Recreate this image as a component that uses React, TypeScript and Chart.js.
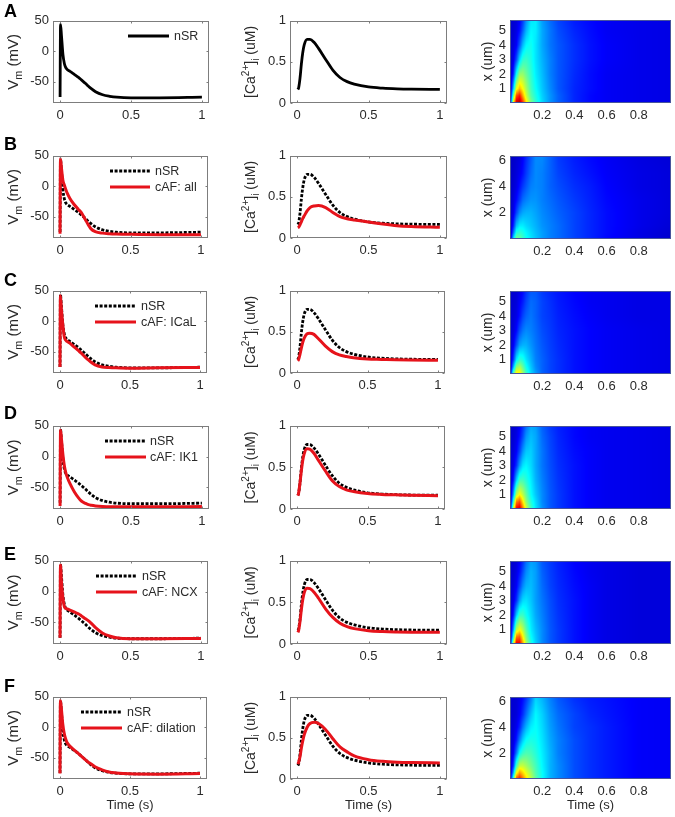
import React, { useEffect, useRef } from "react";
import { Chart, registerables } from "chart.js";

Chart.register(...registerables);

const FONT = '"Liberation Sans", Arial, sans-serif';
const TICK_COLOR = "#2a2a2a";
const FRAME_COLOR = "#7d7d7d";
const RED = "#e6131b";

const panelLetters = ["A", "B", "C", "D", "E", "F"];
const legendCaf = ["", "cAF: all", "cAF: ICaL", "cAF: IK1", "cAF: NCX", "cAF: dilation"];

// ---- Membrane potential
const vmTime = [0, 0.003, 0.01, 0.02, 0.03, 0.04, 0.05, 0.07, 0.1, 0.13, 0.15, 0.18, 0.2, 0.22, 0.25, 0.3, 0.35, 0.4, 0.5, 0.7, 1];
const vmNsr = [-75, 44, 25, -5, -20, -27, -30, -33, -38, -43, -47, -53, -57.5, -61.5, -66.5, -71.5, -74, -75.5, -76.5, -76.5, -75.5];
const vmAll = [-78, 45, 30, 10, 2, -5, -11, -20, -30, -38, -43, -55, -63, -70, -74.5, -77, -78, -78.5, -79, -79.5, -79.5];
const vmICaL = [-75, 42, 20, -5, -25, -31, -33, -36, -42, -48, -52, -59, -63, -67, -71.5, -75, -76, -76.5, -77, -76.5, -76];
const vmIK1 = [-80, 43, 28, 3, -15, -26, -33, -44, -57, -67, -72, -76, -78, -79, -80, -81, -81.5, -81.5, -81.5, -81.5, -81];
const vmNCX = [-75, 43, 15, -10, -24, -27, -28, -30, -33, -36, -39, -44, -47, -51, -58, -67, -72, -75, -76.5, -76.5, -76];
const vmDilation = [-76, 44, 30, 5, -10, -19, -25, -31, -37, -43, -47, -53, -57, -60, -65, -70, -73.5, -75, -76.5, -77, -76];

// ---- Calcium transient
const caTime = [0.005, 0.01, 0.02, 0.03, 0.04, 0.05, 0.07, 0.09, 0.12, 0.15, 0.2, 0.25, 0.3, 0.35, 0.4, 0.5, 0.6, 0.7, 0.8, 1];
const caNsr = [0.165, 0.18, 0.3, 0.48, 0.62, 0.71, 0.775, 0.775, 0.735, 0.665, 0.53, 0.4, 0.31, 0.26, 0.23, 0.195, 0.18, 0.172, 0.168, 0.165];
const caAll = [0.125, 0.13, 0.16, 0.2, 0.24, 0.27, 0.33, 0.37, 0.39, 0.395, 0.37, 0.31, 0.26, 0.235, 0.22, 0.195, 0.17, 0.15, 0.14, 0.13];
const caICaL = [0.15, 0.16, 0.22, 0.3, 0.37, 0.42, 0.475, 0.485, 0.47, 0.42, 0.33, 0.26, 0.22, 0.2, 0.185, 0.17, 0.165, 0.16, 0.157, 0.155];
const caIK1 = [0.16, 0.18, 0.3, 0.45, 0.58, 0.66, 0.725, 0.72, 0.67, 0.59, 0.46, 0.34, 0.27, 0.23, 0.21, 0.185, 0.175, 0.17, 0.165, 0.16];
const caNCX = [0.14, 0.16, 0.27, 0.42, 0.54, 0.62, 0.67, 0.665, 0.62, 0.55, 0.42, 0.32, 0.25, 0.21, 0.185, 0.16, 0.15, 0.145, 0.142, 0.14];
const caDilation = [0.18, 0.2, 0.27, 0.38, 0.47, 0.54, 0.63, 0.675, 0.69, 0.675, 0.6, 0.49, 0.39, 0.33, 0.28, 0.235, 0.215, 0.205, 0.2, 0.195];

const vmCaf = [null, vmAll, vmICaL, vmIK1, vmNCX, vmDilation];
const caCaf = [null, caAll, caICaL, caIK1, caNCX, caDilation];

// ---- Line-scan maps, colour value 0..1 (rows run from the bottom of the map up)
const heatTime = [0.005, 0.02, 0.04, 0.06, 0.08, 0.1, 0.13, 0.16, 0.2, 0.25, 0.3, 0.4, 0.5, 0.6, 0.8, 1];
const heatRowsShort = [0, 0.5, 1, 2, 3, 4, 5, 5.75];
const heatRowsTall = [0, 0.5, 1, 2, 3, 4, 5, 6.35];

const heatA = [
  [0.18, 0.62, 0.93, 0.96, 0.84, 0.66, 0.5, 0.42, 0.34, 0.27, 0.22, 0.16, 0.13, 0.115, 0.105, 0.1],
  [0.12, 0.45, 0.8, 0.86, 0.71, 0.58, 0.46, 0.4, 0.33, 0.27, 0.22, 0.16, 0.13, 0.115, 0.105, 0.1],
  [0.09, 0.3, 0.6, 0.69, 0.62, 0.54, 0.44, 0.38, 0.32, 0.26, 0.21, 0.16, 0.135, 0.115, 0.105, 0.1],
  [0.08, 0.15, 0.38, 0.52, 0.52, 0.48, 0.42, 0.36, 0.31, 0.25, 0.21, 0.165, 0.135, 0.115, 0.105, 0.1],
  [0.08, 0.1, 0.2, 0.34, 0.42, 0.43, 0.4, 0.35, 0.3, 0.25, 0.21, 0.17, 0.14, 0.12, 0.105, 0.1],
  [0.08, 0.09, 0.12, 0.21, 0.31, 0.37, 0.39, 0.35, 0.29, 0.24, 0.21, 0.17, 0.14, 0.12, 0.105, 0.1],
  [0.08, 0.08, 0.1, 0.14, 0.22, 0.3, 0.37, 0.36, 0.29, 0.24, 0.2, 0.16, 0.135, 0.115, 0.105, 0.1],
  [0.08, 0.08, 0.09, 0.12, 0.18, 0.26, 0.35, 0.36, 0.28, 0.23, 0.19, 0.15, 0.13, 0.115, 0.105, 0.1],
];
const heatB = [
  [0.1, 0.34, 0.5, 0.48, 0.43, 0.39, 0.35, 0.32, 0.28, 0.25, 0.23, 0.19, 0.16, 0.13, 0.1, 0.075],
  [0.08, 0.22, 0.4, 0.42, 0.4, 0.37, 0.34, 0.31, 0.28, 0.25, 0.23, 0.19, 0.16, 0.135, 0.1, 0.08],
  [0.08, 0.15, 0.31, 0.36, 0.36, 0.34, 0.32, 0.3, 0.27, 0.25, 0.23, 0.19, 0.16, 0.135, 0.105, 0.085],
  [0.075, 0.1, 0.19, 0.26, 0.29, 0.3, 0.3, 0.285, 0.26, 0.24, 0.22, 0.19, 0.16, 0.135, 0.105, 0.09],
  [0.07, 0.09, 0.13, 0.18, 0.23, 0.25, 0.27, 0.27, 0.25, 0.23, 0.21, 0.18, 0.155, 0.13, 0.105, 0.09],
  [0.07, 0.08, 0.1, 0.14, 0.18, 0.21, 0.25, 0.26, 0.25, 0.22, 0.2, 0.17, 0.15, 0.125, 0.1, 0.09],
  [0.07, 0.075, 0.09, 0.11, 0.14, 0.18, 0.23, 0.26, 0.25, 0.22, 0.19, 0.16, 0.14, 0.12, 0.1, 0.09],
  [0.07, 0.07, 0.08, 0.09, 0.12, 0.16, 0.21, 0.26, 0.26, 0.22, 0.18, 0.15, 0.13, 0.115, 0.095, 0.085],
];
const heatC = [
  [0.14, 0.46, 0.66, 0.65, 0.54, 0.44, 0.34, 0.28, 0.22, 0.19, 0.17, 0.14, 0.125, 0.115, 0.105, 0.1],
  [0.09, 0.28, 0.5, 0.54, 0.47, 0.39, 0.32, 0.26, 0.22, 0.19, 0.17, 0.14, 0.125, 0.115, 0.105, 0.1],
  [0.09, 0.17, 0.35, 0.42, 0.4, 0.35, 0.3, 0.25, 0.22, 0.19, 0.17, 0.14, 0.125, 0.115, 0.105, 0.1],
  [0.08, 0.11, 0.2, 0.28, 0.3, 0.3, 0.27, 0.24, 0.21, 0.185, 0.165, 0.14, 0.125, 0.115, 0.105, 0.1],
  [0.08, 0.09, 0.13, 0.2, 0.24, 0.26, 0.25, 0.23, 0.2, 0.18, 0.16, 0.14, 0.125, 0.115, 0.105, 0.1],
  [0.08, 0.085, 0.1, 0.14, 0.19, 0.22, 0.24, 0.22, 0.19, 0.175, 0.155, 0.135, 0.12, 0.11, 0.1, 0.1],
  [0.08, 0.08, 0.09, 0.12, 0.15, 0.19, 0.23, 0.22, 0.19, 0.17, 0.15, 0.13, 0.115, 0.11, 0.1, 0.1],
  [0.08, 0.08, 0.085, 0.1, 0.13, 0.17, 0.21, 0.21, 0.18, 0.16, 0.145, 0.125, 0.115, 0.11, 0.1, 0.1],
];
const heatD = [
  [0.16, 0.56, 0.89, 0.92, 0.76, 0.59, 0.44, 0.35, 0.27, 0.21, 0.18, 0.14, 0.12, 0.11, 0.105, 0.1],
  [0.1, 0.4, 0.75, 0.8, 0.65, 0.52, 0.41, 0.34, 0.26, 0.21, 0.18, 0.14, 0.12, 0.11, 0.105, 0.1],
  [0.09, 0.26, 0.55, 0.63, 0.56, 0.48, 0.38, 0.32, 0.26, 0.21, 0.18, 0.14, 0.12, 0.11, 0.105, 0.1],
  [0.08, 0.14, 0.32, 0.44, 0.44, 0.41, 0.36, 0.3, 0.25, 0.205, 0.175, 0.14, 0.12, 0.11, 0.105, 0.1],
  [0.08, 0.1, 0.17, 0.28, 0.35, 0.37, 0.34, 0.29, 0.24, 0.2, 0.17, 0.14, 0.12, 0.11, 0.105, 0.1],
  [0.08, 0.09, 0.12, 0.19, 0.27, 0.32, 0.33, 0.29, 0.24, 0.195, 0.165, 0.135, 0.12, 0.11, 0.105, 0.1],
  [0.08, 0.08, 0.1, 0.14, 0.2, 0.27, 0.31, 0.29, 0.23, 0.19, 0.16, 0.13, 0.115, 0.11, 0.105, 0.1],
  [0.08, 0.08, 0.09, 0.12, 0.17, 0.23, 0.29, 0.28, 0.22, 0.18, 0.155, 0.13, 0.115, 0.11, 0.105, 0.1],
];
const heatE = [
  [0.16, 0.56, 0.9, 0.89, 0.72, 0.55, 0.41, 0.33, 0.26, 0.21, 0.18, 0.14, 0.115, 0.1, 0.09, 0.09],
  [0.1, 0.38, 0.75, 0.78, 0.63, 0.5, 0.38, 0.32, 0.26, 0.21, 0.18, 0.14, 0.115, 0.1, 0.09, 0.09],
  [0.09, 0.26, 0.55, 0.62, 0.55, 0.46, 0.36, 0.31, 0.26, 0.21, 0.18, 0.14, 0.115, 0.1, 0.09, 0.09],
  [0.08, 0.14, 0.32, 0.43, 0.43, 0.39, 0.34, 0.29, 0.25, 0.205, 0.175, 0.14, 0.115, 0.1, 0.09, 0.09],
  [0.08, 0.1, 0.17, 0.28, 0.34, 0.35, 0.32, 0.28, 0.24, 0.2, 0.17, 0.14, 0.115, 0.1, 0.09, 0.09],
  [0.08, 0.09, 0.12, 0.19, 0.26, 0.3, 0.31, 0.28, 0.23, 0.19, 0.165, 0.135, 0.115, 0.1, 0.09, 0.09],
  [0.08, 0.08, 0.1, 0.14, 0.2, 0.26, 0.3, 0.28, 0.22, 0.185, 0.16, 0.13, 0.11, 0.1, 0.09, 0.09],
  [0.08, 0.08, 0.09, 0.12, 0.17, 0.23, 0.28, 0.27, 0.21, 0.18, 0.155, 0.125, 0.11, 0.1, 0.09, 0.09],
];
const heatF = [
  [0.14, 0.42, 0.8, 0.86, 0.76, 0.66, 0.56, 0.47, 0.38, 0.3, 0.26, 0.2, 0.17, 0.15, 0.12, 0.115],
  [0.09, 0.27, 0.6, 0.72, 0.66, 0.6, 0.53, 0.45, 0.38, 0.3, 0.26, 0.2, 0.17, 0.15, 0.12, 0.115],
  [0.09, 0.17, 0.44, 0.57, 0.57, 0.54, 0.49, 0.44, 0.37, 0.3, 0.26, 0.2, 0.17, 0.15, 0.12, 0.115],
  [0.08, 0.11, 0.24, 0.38, 0.43, 0.45, 0.44, 0.41, 0.36, 0.3, 0.25, 0.2, 0.17, 0.15, 0.12, 0.115],
  [0.08, 0.09, 0.15, 0.25, 0.33, 0.38, 0.4, 0.39, 0.35, 0.29, 0.25, 0.2, 0.17, 0.15, 0.12, 0.115],
  [0.08, 0.085, 0.11, 0.16, 0.24, 0.3, 0.36, 0.38, 0.34, 0.28, 0.24, 0.19, 0.17, 0.15, 0.12, 0.115],
  [0.08, 0.08, 0.09, 0.12, 0.17, 0.23, 0.31, 0.37, 0.33, 0.27, 0.23, 0.19, 0.16, 0.145, 0.12, 0.115],
  [0.08, 0.08, 0.085, 0.1, 0.13, 0.17, 0.24, 0.33, 0.3, 0.25, 0.21, 0.17, 0.15, 0.14, 0.12, 0.115],
];
const heatGrids = [heatA, heatB, heatC, heatD, heatE, heatF];

// ---- Ticks
const vmTicks = [-50, 0, 50];
const caTicks = [0, 0.5, 1];
const lineTimeTicks = [0, 0.5, 1];
const heatTimeTicks = [0.2, 0.4, 0.6, 0.8];
const heatYShort = [1, 2, 3, 4, 5];
const heatYTall = [2, 4, 6];

// ---- Layout: [top, bottom] of each row, right edges per column
const rowBox = [[19, 103], [154, 238], [289, 373], [424, 509], [559, 644], [695, 779]];
const heatRowBox = [[18, 103], [154, 239], [289, 374], [424, 509], [559, 644], [695, 779]];
const col1Right = [209, 208, 207, 209, 208, 207];
const col2Right = [447, 447, 445, 445, 447, 447];
const letterBaseline = [17, 150, 286, 419, 560, 692];
// line start, line end, text start, first row y, second row y
const legendBox = [
  [128, 169, 174, 36, 36],
  [110, 150, 155, 171, 187],
  [95, 136, 141, 306, 322],
  [105, 146, 150, 441, 457],
  [96, 137, 142, 576, 592],
  [81, 122, 127, 712, 728],
];

type Part = { t: string; mode?: "sub" | "sup" };
const vmLabel: Part[] = [{ t: "V" }, { t: "m", mode: "sub" }, { t: " (mV)" }];
const caLabel: Part[] = [{ t: "[Ca" }, { t: "2+", mode: "sup" }, { t: "]" }, { t: "i", mode: "sub" }, { t: " (uM)" }];
const xLabel: Part[] = [{ t: "x (um)" }];

const framePlugin = (color: string, ticks: boolean) => ({
  id: "frame",
  afterDatasetsDraw(chart: any) {
    const { ctx, chartArea: a, scales } = chart;
    const l = Math.round(a.left) + 0.5;
    const r = Math.round(a.right) - 0.5;
    const t = Math.round(a.top) + 0.5;
    const b = Math.round(a.bottom) - 0.5;
    ctx.save();
    ctx.strokeStyle = color;
    ctx.lineWidth = 1;
    ctx.strokeRect(l, t, r - l, b - t);
    if (ticks) {
      ctx.beginPath();
      for (const tk of scales.x.ticks) {
        const p = Math.round(scales.x.getPixelForValue(tk.value)) + 0.5;
        ctx.moveTo(p, b); ctx.lineTo(p, b - 2);
        ctx.moveTo(p, t); ctx.lineTo(p, t + 2);
      }
      for (const tk of scales.y.ticks) {
        const p = Math.round(scales.y.getPixelForValue(tk.value)) + 0.5;
        ctx.moveTo(l, p); ctx.lineTo(l + 2, p);
        ctx.moveTo(r, p); ctx.lineTo(r - 2, p);
      }
      ctx.stroke();
    }
    ctx.restore();
  },
});

const yTitlePlugin = (parts: Part[], cx: number, size: number) => ({
  id: "yTitle",
  afterDraw(chart: any) {
    const { ctx, chartArea: a } = chart;
    const sizeOf = (p: Part) => (p.mode ? size * 0.72 : size);
    ctx.save();
    ctx.fillStyle = TICK_COLOR;
    ctx.textAlign = "left";
    ctx.textBaseline = "alphabetic";
    let total = 0;
    for (const p of parts) {
      ctx.font = `${sizeOf(p)}px ${FONT}`;
      total += ctx.measureText(p.t).width;
    }
    ctx.translate(cx + size * 0.36, (a.top + a.bottom) / 2);
    ctx.rotate(-Math.PI / 2);
    let x = -total / 2;
    for (const p of parts) {
      ctx.font = `${sizeOf(p)}px ${FONT}`;
      const dy = p.mode === "sub" ? size * 0.25 : p.mode === "sup" ? -size * 0.4 : 0;
      ctx.fillText(p.t, x, dy);
      x += ctx.measureText(p.t).width;
    }
    ctx.restore();
  },
});

const legendPlugin = (box: number[], canvasLeft: number, canvasTop: number) => ({
  id: "panelLegend",
  afterDatasetsDraw(chart: any) {
    const { ctx } = chart;
    const [x0, x1, tx, y0, y1] = box;
    ctx.save();
    chart.data.datasets.forEach((d: any, i: number) => {
      const y = (i === 0 ? y0 : y1) - canvasTop;
      ctx.beginPath();
      ctx.strokeStyle = d.borderColor;
      ctx.lineWidth = d.borderWidth;
      ctx.setLineDash(d.borderDash || []);
      ctx.moveTo(x0 - canvasLeft, y);
      ctx.lineTo(x1 - canvasLeft, y);
      ctx.stroke();
      ctx.setLineDash([]);
      ctx.fillStyle = TICK_COLOR;
      ctx.font = `12.5px ${FONT}`;
      ctx.textAlign = "left";
      ctx.textBaseline = "middle";
      ctx.fillText(d.label, tx - canvasLeft, y + 0.5);
    });
    ctx.restore();
  },
});

const jet = (v: number) => {
  const c = (x: number) => Math.max(0, Math.min(1, x));
  return [c(1.5 - Math.abs(4 * v - 3)) * 255, c(1.5 - Math.abs(4 * v - 2)) * 255, c(1.5 - Math.abs(4 * v - 1)) * 255];
};

const bracket = (arr: number[], v: number) => {
  if (v <= arr[0]) return [0, 0, 0];
  const n = arr.length - 1;
  if (v >= arr[n]) return [n, n, 0];
  let i = 0;
  while (arr[i + 1] < v) i++;
  return [i, i + 1, (v - arr[i]) / (arr[i + 1] - arr[i])];
};

const heatPlugin = (times: number[], rows: number[], grid: number[][]) => ({
  id: "heat",
  beforeDatasetsDraw(chart: any) {
    const { ctx, chartArea: a, scales } = chart;
    const left = Math.round(a.left);
    const top = Math.round(a.top);
    const w = Math.round(a.right) - left;
    const h = Math.round(a.bottom) - top;
    const img = ctx.createImageData(w, h);
    const xs = [];
    for (let px = 0; px < w; px++) xs.push(bracket(times, scales.x.getValueForPixel(left + px + 0.5)));
    for (let py = 0; py < h; py++) {
      const [r0, r1, fr] = bracket(rows, scales.y.getValueForPixel(top + py + 0.5));
      for (let px = 0; px < w; px++) {
        const [c0, c1, fc] = xs[px];
        const v0 = grid[r0][c0] * (1 - fc) + grid[r0][c1] * fc;
        const v1 = grid[r1][c0] * (1 - fc) + grid[r1][c1] * fc;
        const [R, G, B] = jet(v0 * (1 - fr) + v1 * fr);
        const k = (py * w + px) * 4;
        img.data[k] = R; img.data[k + 1] = G; img.data[k + 2] = B; img.data[k + 3] = 255;
      }
    }
    ctx.putImageData(img, left, top);
  },
});

const PAD = 10;

type Spec = {
  left: number; right: number; top: number; bottom: number; canvasLeft: number; xHeight: number;
  datasets: any[]; xMin: number; xMax: number; yMin: number; yMax: number;
  xTicks: number[]; yTicks: number[]; xTitle: boolean; plugins: any[];
};

const axisFont = { family: FONT, size: 13 };

const makeConfig = (s: Spec) => {
  return {
    type: "scatter",
    data: { datasets: s.datasets },
    plugins: s.plugins,
    options: {
      animation: false,
      responsive: false,
      maintainAspectRatio: false,
      events: [],
      layout: { autoPadding: false, padding: { left: 0, top: PAD, right: PAD, bottom: 0 } },
      plugins: { legend: { display: false }, tooltip: { enabled: false }, title: { display: false } },
      scales: {
        x: {
          type: "linear", min: s.xMin, max: s.xMax,
          grid: { display: false, drawTicks: false }, border: { display: false },
          afterBuildTicks: (sc: any) => { sc.ticks = s.xTicks.map((value) => ({ value })); },
          afterFit: (sc: any) => { sc.height = s.xHeight; },
          ticks: { color: TICK_COLOR, font: axisFont, padding: 5, maxRotation: 0, autoSkip: false, callback: (v: number) => String(v) },
          title: { display: s.xTitle, text: "Time (s)", color: TICK_COLOR, font: { family: FONT, size: 13 }, padding: 0 },
        },
        y: {
          type: "linear", min: s.yMin, max: s.yMax,
          grid: { display: false, drawTicks: false }, border: { display: false },
          afterBuildTicks: (sc: any) => { sc.ticks = s.yTicks.map((value) => ({ value })); },
          afterFit: (sc: any) => { sc.width = s.left - s.canvasLeft; },
          ticks: { color: TICK_COLOR, font: axisFont, padding: 4, autoSkip: false, callback: (v: number) => String(v) },
        },
      },
    },
  };
};

const lineDatasets = (time: number[], nsr: number[], caf: number[] | null, cafName: string) => {
  const toPts = (vals: number[]) => time.map((x, i) => ({ x, y: vals[i] }));
  const common = { showLine: true, pointRadius: 0, cubicInterpolationMode: "monotone", borderCapStyle: "butt" };
  if (!caf) return [{ ...common, label: "nSR", data: toPts(nsr), borderColor: "#000000", borderWidth: 2.8 }];
  return [
    { ...common, label: "nSR", data: toPts(nsr), borderColor: "#000000", borderWidth: 2.8, borderDash: [3, 1.6], order: 2 },
    { ...common, label: cafName, data: toPts(caf), borderColor: RED, borderWidth: 3, order: 1 },
  ];
};

const buildSpecs = (): (Spec & { key: string })[] => {
  const specs: (Spec & { key: string })[] = [];
  panelLetters.forEach((letter, row) => {
    const [top, bottom] = rowBox[row];
    const last = row === panelLetters.length - 1;
    const xHeight = last ? 34 : 24;
    const caf = vmCaf[row];
    const box = legendBox[row];
    const canvasTop = top - PAD;
    specs.push({
      key: letter + "vm", left: 53, right: col1Right[row], top, bottom, canvasLeft: 0, xHeight,
      datasets: lineDatasets(vmTime, vmNsr, caf as any, legendCaf[row]),
      xMin: -0.05, xMax: 1.05, yMin: -85, yMax: 50, xTicks: lineTimeTicks, yTicks: vmTicks, xTitle: last,
      plugins: [framePlugin(FRAME_COLOR, true), yTitlePlugin(vmLabel, 13, 15), legendPlugin(box, 0, canvasTop)],
    });
    specs.push({
      key: letter + "ca", left: 290, right: col2Right[row], top, bottom, canvasLeft: 235, xHeight,
      datasets: lineDatasets(caTime, caNsr, caCaf[row] as any, legendCaf[row]),
      xMin: -0.05, xMax: 1.05, yMin: 0, yMax: 1, xTicks: lineTimeTicks, yTicks: caTicks, xTitle: last,
      plugins: [framePlugin(FRAME_COLOR, true), yTitlePlugin(caLabel, 250 - 235, 14)],
    });
    const [hTop, hBottom] = heatRowBox[row];
    const tall = row === 1 || row === 5;
    const rows = tall ? heatRowsTall : heatRowsShort;
    const grid = heatGrids[row];
    const cells: any[] = [];
    rows.forEach((y, r) => heatTime.forEach((x, c) => cells.push({ x, y, v: grid[r][c] })));
    specs.push({
      key: letter + "heat", left: 510, right: 671, top: hTop, bottom: hBottom, canvasLeft: 470, xHeight,
      datasets: [{ label: "map", data: cells, pointRadius: 0, showLine: false }],
      xMin: 0, xMax: 1, yMin: 0, yMax: tall ? 6.35 : 5.75, xTicks: heatTimeTicks, yTicks: tall ? heatYTall : heatYShort, xTitle: last,
      plugins: [heatPlugin(heatTime, rows, grid), framePlugin("#47549c", false), yTitlePlugin(xLabel, 487 - 470, 14)],
    });
  });
  return specs;
};

function Panel({ spec }: { spec: Spec }) {
  const ref = useRef<HTMLCanvasElement>(null);
  useEffect(() => {
    const chart = new Chart(ref.current as HTMLCanvasElement, makeConfig(spec) as any);
    return () => chart.destroy();
  }, [spec]);
  const w = spec.right + PAD - spec.canvasLeft;
  const h = spec.bottom - spec.top + PAD + spec.xHeight;
  return (
    <canvas
      ref={ref}
      width={w}
      height={h}
      style={{ position: "absolute", left: spec.canvasLeft, top: spec.top - PAD, width: w, height: h }}
    />
  );
}

const specs = buildSpecs();

export default function App() {
  useEffect(() => {
    document.body.style.margin = "0";
    document.body.style.background = "#fff";
  }, []);
  return (
    <div style={{ position: "absolute", left: 0, top: 0, width: 675, height: 817, overflow: "hidden", background: "#fff" }}>
      {specs.map((s) => <Panel key={s.key} spec={s} />)}
      {panelLetters.map((l, i) => (
        <div
          key={l}
          style={{ position: "absolute", left: 4, top: letterBaseline[i] - 14.4, font: `bold 18px/17px ${FONT}`, color: "#000" }}
        >
          {l}
        </div>
      ))}
    </div>
  );
}
